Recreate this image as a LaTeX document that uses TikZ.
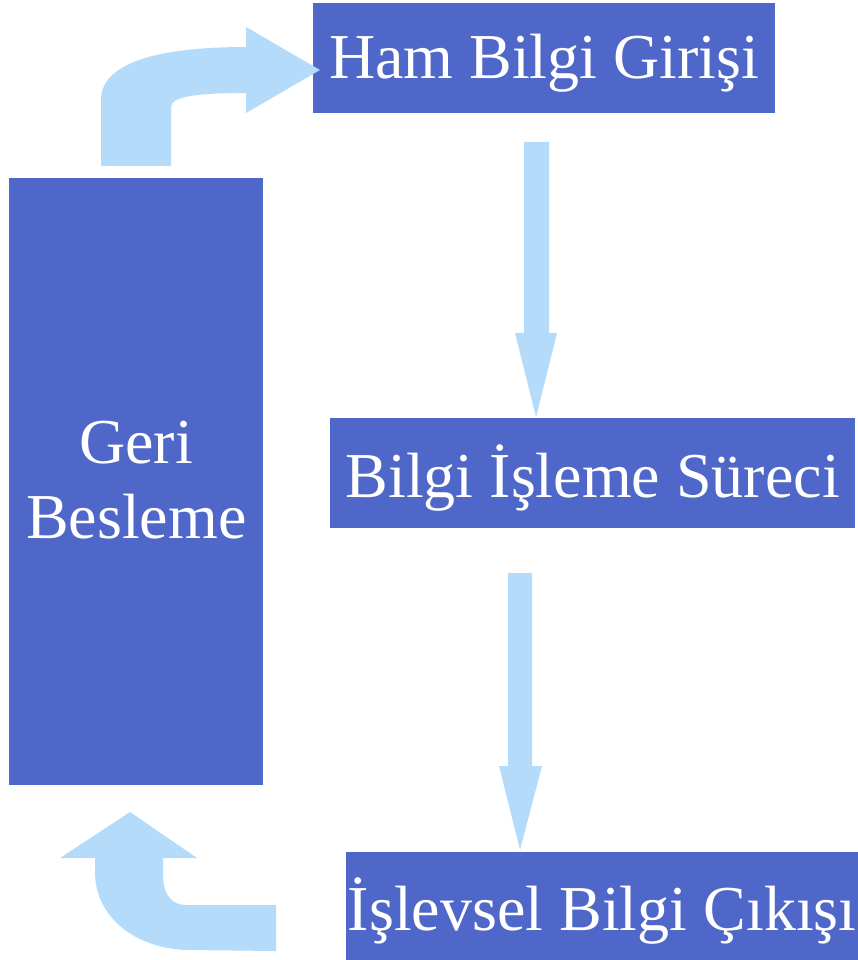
\documentclass[tikz,border=0pt]{standalone}
\usepackage{fontspec}
\setmainfont{Liberation Serif}
\definecolor{boxblue}{RGB}{79,103,200}
\definecolor{flowblue}{RGB}{180,219,249}

\tikzset{
  stage/.style={fill=boxblue,text=white,inner sep=0pt,anchor=north west,
    font=\fontsize{64}{75}\selectfont,align=center,text depth=0.45em},
  flow/.style={fill=flowblue,draw=none}
}

\begin{document}
\begin{tikzpicture}[x=1pt,y=-1pt]
        \useasboundingbox (0,0) rectangle (858,960);

        % stages
        \node[stage,minimum width=462pt,minimum height=110pt] (ham) at (313,3) {Ham Bilgi Girişi};
        \node[stage,minimum width=525pt,minimum height=110pt] (isleme) at (330,418) {Bilgi İşleme Süreci};
        \node[stage,minimum width=512pt,minimum height=108pt] (cikis) at (346,852) {İşlevsel Bilgi Çıkışı};
        \node[stage,minimum width=254pt,minimum height=607pt] (geri) at (9,178) {Geri\\Besleme};

        % straight flows
        \coordinate (tipA) at (536,417);
        \fill[flow] (524,142) -- (549,142) -- (549,333) -- (557,333) -- (tipA)
          -- (515,333) -- (524,333) -- cycle;
        \coordinate (tipB) at (520,850);
        \fill[flow] (508,573) -- (532,573) -- (532,766) -- (542,766) -- (tipB)
          -- (499,766) -- (508,766) -- cycle;

        % feedback flows
        \coordinate (tipC) at (320,70);
        \fill[flow] (101,166) -- (101,100) .. controls (101,62) and (160,47) .. (246,47)
          -- (246,27) -- (tipC) -- (246,113) -- (246,93)
          .. controls (200,93) and (171,96) .. (171,107) -- (171,166) -- cycle;
        \coordinate (tipD) at (130,812);
        \fill[flow] (276,951) -- (190,950) .. controls (140,950) and (95,920) .. (95,872)
          -- (95,858) -- (60,858) -- (tipD) -- (197,858) -- (163,858) -- (163,875)
          .. controls (163,895) and (172,905) .. (186,905) -- (276,905) -- cycle;
      \end{tikzpicture}
\end{document}
